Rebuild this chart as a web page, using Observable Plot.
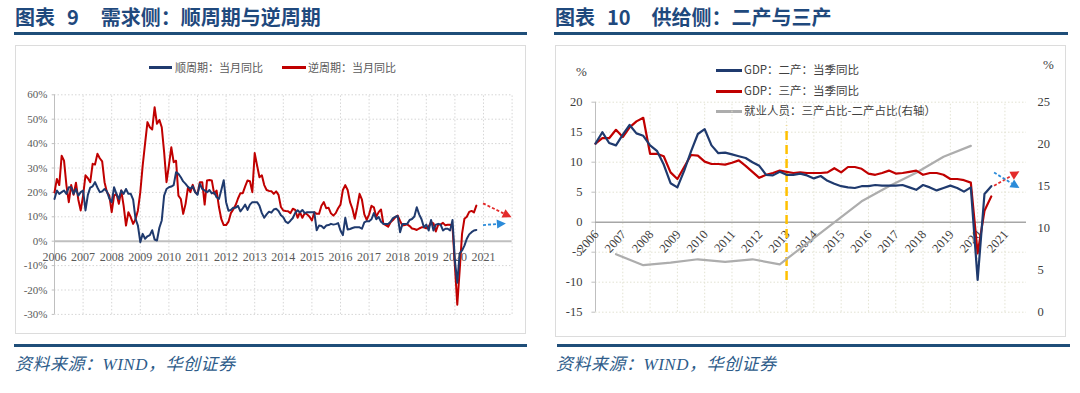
<!DOCTYPE html>
<html><head><meta charset="utf-8">
<script src="https://cdn.jsdelivr.net/npm/d3@7"></script>
<script src="https://cdn.jsdelivr.net/npm/@observablehq/plot@0.6"></script>
<style>
body{margin:0;background:#fff;}
#root{position:relative;width:1080px;height:393px;overflow:hidden;font-family:"Noto Sans CJK SC","Noto Sans",sans-serif;}
.abs{position:absolute;}
.title{font-size:20px;font-weight:700;color:#1F497D;white-space:nowrap;line-height:24px;}
.rule{height:3px;background:#1F4E79;}
.box{border:1.5px solid #DCDCDC;box-sizing:border-box;}
.src{font-size:17px;font-style:italic;color:#2E5C8A;white-space:nowrap;letter-spacing:0.5px;font-family:"Liberation Serif","Noto Sans CJK SC",serif;}
.leg{font-size:11px;color:#595959;white-space:nowrap;line-height:14px;}
.legR{font-size:11.5px;color:#404040;white-space:nowrap;line-height:14px;}
.sw{position:absolute;height:2.5px;}
.pct{font-size:13px;color:#404040;font-family:"Liberation Serif",serif;}
.plotwrap{position:absolute;top:0;}
</style></head>
<body>
<div id="root">
  <div class="abs title" style="left:15px;top:5px;">图表<span style="margin-left:12px;">9</span><span style="margin-left:22px;">需求侧：顺周期与逆周期</span></div>
  <div class="abs title" style="left:555px;top:5px;">图表<span style="margin-left:12px;">10</span><span style="margin-left:21px;">供给侧：二产与三产</span></div>
  <div class="abs rule" style="left:14px;top:32px;width:513px;"></div>
  <div class="abs rule" style="left:554px;top:32px;width:514px;"></div>
  <div class="abs box" style="left:15px;top:45px;width:511px;height:289px;"></div>
  <div class="abs box" style="left:555px;top:45px;width:511px;height:292px;"></div>
  <div class="abs rule" style="left:14px;top:344px;width:513px;"></div>
  <div class="abs rule" style="left:557px;top:344px;width:513px;"></div>
  <div class="abs src" style="left:15px;top:350px;">资料来源：WIND，华创证券</div>
  <div class="abs src" style="left:556px;top:350px;">资料来源：WIND，华创证券</div>

  <!-- left legend -->
  <div class="sw" style="left:149px;top:66px;width:23px;background:#1F3A6E;"></div>
  <div class="abs leg" style="left:175px;top:60px;">顺周期：当月同比</div>
  <div class="sw" style="left:282px;top:66px;width:24px;background:#C00000;"></div>
  <div class="abs leg" style="left:308px;top:60px;">逆周期：当月同比</div>

  <!-- right legend -->
  <div class="sw" style="left:716px;top:69px;width:26px;background:#1F3A6E;"></div>
  <div class="abs legR" style="left:744px;top:62px;">GDP：二产：当季同比</div>
  <div class="sw" style="left:716px;top:90px;width:26px;background:#C00000;"></div>
  <div class="abs legR" style="left:744px;top:83px;">GDP：三产：当季同比</div>
  <div class="sw" style="left:716px;top:110px;width:26px;background:#ADADAD;"></div>
  <div class="abs legR" style="left:744px;top:103px;">就业人员：三产占比-二产占比(右轴）</div>

  <div class="abs pct" style="left:576px;top:64px;">%</div>
  <div class="abs pct" style="left:1043px;top:57px;">%</div>

  <div id="left" class="plotwrap" style="left:0px;"></div>
  <div id="right" class="plotwrap" style="left:540px;"></div>
</div>
<script>
// ---------------- data ----------------
const years = [2006,2007,2008,2009,2010,2011,2012,2013,2014,2015,2016,2017,2018,2019,2020,2021];
const leftYTicks = [-30,-20,-10,0,10,20,30,40,50,60];
const monthStart = 2006; // first value = 2006-01

// 顺周期：当月同比 (%), monthly from 2006-01
const proCyclical = [
 17.3,20.8,19.4,20.1,20.8,19.4,22.1,22.1,19.4,21.4,18.7,20.1,
 20.8,12.6,19,22,22.5,24.2,22,20.1,20.4,21.4,20.4,17.5,
 16,22.1,19.4,17.3,20.8,19.4,21.4,19.4,19.4,17,9.2,6.4,
 -0.4,3,1,2,2.5,4.5,0.7,0.3,5.5,8.5,18.7,21.4,
 22.1,22.4,23,28.3,27.6,26.2,24.5,23.5,22.3,21.5,22.5,20.1,
 19,23.5,21.4,20.8,20.1,21,19.6,20,18,17.3,21,25,
 16,12.5,12.8,13.7,13.7,14.5,12.2,13.5,15,12.8,15,16,
 16,16,14.5,11.5,9.6,11,12.1,11.7,13,13.3,12.4,10.6,
 9.8,8,7.4,8.4,9.5,11.6,12.7,11.8,12.8,11.5,11.9,11.9,
 11.9,11.9,4.5,6.4,6.2,5.3,6.4,6.6,7.1,6.8,7,7.4,
 4.4,2.5,9.6,4.8,5,5.4,5.7,5.7,5.7,5.1,7.7,8.2,
 8.2,9,11.5,9,9.9,8,7.1,7.1,7.1,8,9.5,10,
 10.3,3.7,7.1,7.1,7.1,8.7,9.1,10.1,13.9,11,9,5.7,
 6.8,4.4,8.7,4.4,6.8,7.1,6.8,4.4,5.1,5.1,4.4,8.7,
 -8,-17,-5,-3.8,-1.8,1,2.8,3.7,4.4,4.6
];
// 逆周期：当月同比 (%), monthly from 2006-01
const counterCyclical = [
 20,25.5,23,35,33,23,16,23,19,24,17,12.6,
 18.7,27,25.8,24.2,31.7,31.4,35.8,34,32.7,24.2,20.1,18.7,
 11.9,18.7,19.4,15.3,20.8,14.6,6.4,11.9,9.8,7.1,9,12.6,
 20.1,31,40,48.8,46.7,45.8,54.9,48.1,49.7,46.7,36.5,24.2,
 31,38.5,32.4,33,18.7,17.3,11.2,15.3,22.1,20.1,23.1,20.1,
 19.4,24.2,24.2,15,24.9,25.1,24.9,19.4,20.8,14,9,6.6,
 6.6,8,11.5,13,14.8,17.5,19.7,19.7,22.5,24.9,24.6,20.1,
 36.1,31,26.2,27,23,21,20.6,20.5,19.4,20.4,19,14,
 12.6,12.4,12.3,11.5,13.3,12.8,9.6,11.9,9.6,11.5,11,10,
 8.5,11.9,11.2,11.2,14.5,16,13.5,13.7,11.4,10.5,11.5,13.5,
 15,21,23,21,16,13.3,9.2,13.9,19.4,17,11,8.7,
 11,14.5,13.9,10,11.9,13,7.1,6.6,5.9,7.8,8.7,9.8,
 10.5,8.3,6.4,6.6,6.9,6.2,5.2,5,4.6,5.2,5.7,5.7,
 5.3,6,7.8,7.3,4,6.8,6.8,7.5,6.5,6.7,6.7,5.9,
 -10,-26,-12,3,9.2,10,12,12.4,11.8,14.6
];

const quarterStart = 2006; // first value = 2006Q1
// GDP：二产：当季同比 (%)
const gdpSecondary = [
 13.1,15.0,13.2,12.8, 14.6,16.2,14.8,14.4, 12.8,11.9,9.6,6.5, 5.8,8.6,11.8,14.7,
 15.5,12.8,11.5,11.6, 11.3,11.0,10.7,10.0, 9.4,7.9,7.8,8.4, 7.9,7.9,8.1,7.8,
 7.3,7.7,6.9,6.4, 6.0,5.8,5.7,6.0, 6.0,6.2,6.1,6.1, 6.1,6.2,5.8,5.4,
 6.2,5.8,5.3,5.7, 6.1,5.7,5.1,5.8, -9.6,4.7,6.0
];
// GDP：三产：当季同比 (%)
const gdpTertiary = [
 13.1,14.0,14.0,15.4, 14.2,15.8,16.8,17.4, 11.4,11.4,11.0,8.3, 7.2,9.2,11.2,11.1,
 10.1,9.7,9.7,9.6, 9.9,10.3,9.4,8.4, 7.4,7.9,8.2,8.6, 8.4,8.2,8.3,8.2,
 8.2,8.2,8.3,9.0, 8.3,9.2,9.2,8.9, 8.1,7.9,8.2,8.6, 8.1,8.2,8.4,8.6,
 7.9,8.2,8.2,7.9, 7.2,7.2,7.0,6.6, -5.2,1.9,4.3
];
// 就业人员：三产占比-二产占比 (右轴, %), annual
const empYears = [2006,2007,2008,2009,2010,2011,2012,2013,2014,2015,2016,2017,2018,2019];
const empDiff  = [6.9,5.6,5.9,6.3,6.0,6.3,5.7,8.2,10.7,13.2,15.0,16.6,18.5,19.8];

const rightTicksL = [-15,-10,-5,0,5,10,15,20];
const rightTicksR = [0,5,10,15,20,25];
const markerYear = 2013;          // yellow dashed divider
const markerRange = [-9.7, 16];

const leftArrows = [
  {x1:2021.0, y1:15.3, x2:2022.0, y2:9.6, color:"#E32B2B"},
  {x1:2021.0, y1:6.4,  x2:2021.8, y2:7.1, color:"#2B8BD9"}
];
const rightArrows = [
  {x1:2020.62, y1:6.0, x2:2021.55, y2:8.4, color:"#E32B2B"},
  {x1:2020.62, y1:8.2, x2:2021.55, y2:5.6, color:"#2B8BD9"}
];

// ---------------- helpers ----------------
const navy = "#1F3A6E", red = "#C00000", gray = "#ADADAD";
const serif = "Liberation Serif, DejaVu Serif, serif";
const monthly = arr => arr.map((v, i) => ({t: monthStart + i / 12, v}));
const quarterly = arr => arr.map((v, i) => ({t: quarterStart + i / 4, v}));
const rightToLeft = r => -15 + r * 35 / 25;

function arrowMark(list) {
  return (index, scales) => {
    const ns = "http://www.w3.org/2000/svg";
    const g = document.createElementNS(ns, "g");
    for (const a of list) {
      const x1 = scales.x(a.x1), y1 = scales.y(a.y1), x2 = scales.x(a.x2), y2 = scales.y(a.y2);
      const dx = x2 - x1, dy = y2 - y1, L = Math.hypot(dx, dy), ux = dx / L, uy = dy / L;
      const hl = 9, hw = 4.5, bx = x2 - ux * hl, by = y2 - uy * hl;
      const ln = document.createElementNS(ns, "line");
      ln.setAttribute("x1", x1); ln.setAttribute("y1", y1);
      ln.setAttribute("x2", bx); ln.setAttribute("y2", by);
      ln.setAttribute("stroke", a.color); ln.setAttribute("stroke-width", 1.8);
      ln.setAttribute("stroke-dasharray", "3,2");
      g.appendChild(ln);
      const p = document.createElementNS(ns, "polygon");
      p.setAttribute("points", `${x2},${y2} ${bx - uy * hw},${by + ux * hw} ${bx + uy * hw},${by - ux * hw}`);
      p.setAttribute("fill", a.color);
      g.appendChild(p);
    }
    return g;
  };
}

// ---------------- left chart ----------------
const left = Plot.plot({
  width: 540, height: 393,
  marginLeft: 54, marginRight: 28.4, marginTop: 94.3, marginBottom: 79.1,
  x: {domain: [2006, 2022], axis: null},
  y: {domain: [-30, 60], axis: null},
  style: {background: "transparent", overflow: "visible"},
  marks: [
    Plot.ruleX(years.slice(1).concat([2022]), {y1: -30, y2: 60, stroke: "#D6D6D6", strokeDasharray: "1.5,2"}),
    Plot.ruleY(leftYTicks.filter(d => d !== 0), {x1: 2006, x2: 2022, stroke: "#D6D6D6", strokeDasharray: "1.5,2"}),
    Plot.ruleX([2006], {y1: -30, y2: 60, stroke: "#BFBFBF", strokeWidth: 1}),
    Plot.ruleY(leftYTicks, {x1: 2005.92, x2: 2006, stroke: "#BFBFBF"}),
    Plot.ruleY([0], {x1: 2006, x2: 2022, stroke: "#BFBFBF", strokeWidth: 2}),
    Plot.text(leftYTicks, {x: 2006, y: d => d, text: d => `${d}%`, textAnchor: "end", dx: -7,
      fontSize: 11, fontFamily: serif, fill: "#595959"}),
    Plot.text(years, {x: d => d, y: 0, text: d => String(d), dy: 16,
      fontSize: 12, fontFamily: serif, fill: "#595959"}),
    Plot.line(monthly(counterCyclical), {x: "t", y: "v", stroke: red, strokeWidth: 2}),
    Plot.line(monthly(proCyclical), {x: "t", y: "v", stroke: navy, strokeWidth: 2}),
    arrowMark(leftArrows)
  ]
});
document.getElementById("left").appendChild(left);

// ---------------- right chart ----------------
const right = Plot.plot({
  width: 540, height: 393,
  marginLeft: 55, marginRight: 54, marginTop: 101.7, marginBottom: 81.3,
  x: {domain: [2006, 2021.79], axis: null},
  y: {domain: [-15, 20], axis: null},
  style: {background: "transparent", overflow: "visible"},
  marks: [
    Plot.ruleX(years.slice(1), {y1: -15, y2: 20, stroke: "#E2E2D2", strokeDasharray: "1.5,2"}),
    Plot.ruleY(rightTicksL.filter(d => d !== 0), {x1: 2006, x2: 2021.79, stroke: "#E2E2D2", strokeDasharray: "1.5,2"}),
    Plot.ruleX([2006], {y1: -15, y2: 20, stroke: "#BFBFBF"}),
    Plot.ruleY(rightTicksL, {x1: 2005.87, x2: 2006, stroke: "#BFBFBF"}),
    Plot.ruleY([0], {x1: 2006, x2: 2021.79, stroke: "#A6A6A6", strokeWidth: 1.5}),
    Plot.text(rightTicksL, {x: 2006, y: d => d, text: d => String(d), textAnchor: "end", dx: -13,
      fontSize: 12.5, fontFamily: serif, fill: "#404040"}),
    Plot.text(rightTicksR, {x: 2021.79, y: d => rightToLeft(d), text: d => String(d), textAnchor: "start", dx: 11,
      fontSize: 12.5, fontFamily: serif, fill: "#404040"}),
    Plot.text(years, {x: d => d, y: 0, text: d => String(d), rotate: -48, textAnchor: "end", dx: 1, dy: 10,
      fontSize: 12.5, fontFamily: serif, fill: "#404040"}),
    Plot.ruleX([markerYear], {y1: markerRange[0], y2: markerRange[1], stroke: "#FFC000", strokeWidth: 2.5, strokeDasharray: "9,5"}),
    Plot.line(empYears.map((y, i) => ({t: y + 0.75, v: rightToLeft(empDiff[i])})), {x: "t", y: "v", stroke: gray, strokeWidth: 2.2}),
    Plot.line(quarterly(gdpTertiary), {x: "t", y: "v", stroke: red, strokeWidth: 2.2}),
    Plot.line(quarterly(gdpSecondary), {x: "t", y: "v", stroke: navy, strokeWidth: 2.2}),
    arrowMark(rightArrows)
  ]
});
document.getElementById("right").appendChild(right);
</script>
</body></html>
